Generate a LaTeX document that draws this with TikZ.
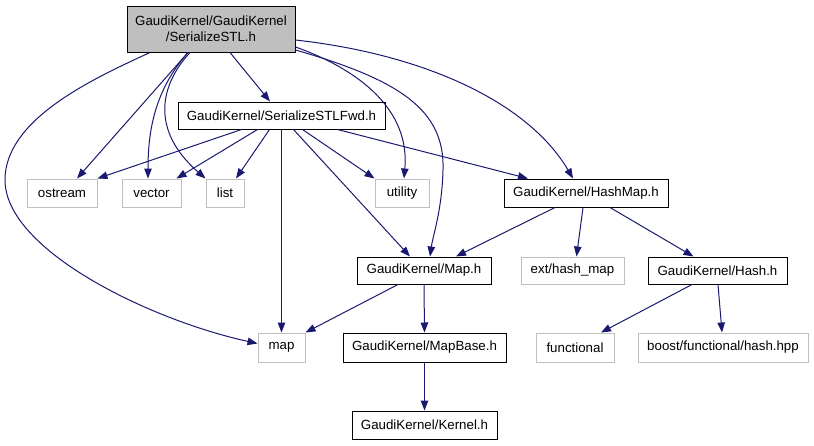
\documentclass[tikz,border=0pt]{standalone}
\usepackage{fontspec}
\setmainfont{Liberation Sans}
\usetikzlibrary{arrows.meta}
\definecolor{edgeblue}{HTML}{191970}
\definecolor{extgray}{HTML}{BFBFBF}
\begin{document}
\begin{tikzpicture}[x=1pt,y=-1pt,
  font=\fontsize{13.3}{16}\selectfont,
  box/.style={draw=black, line width=1pt, minimum height=27pt, inner sep=0pt, text=black},
  ext/.style={draw=extgray, line width=1pt, minimum height=28pt, inner sep=0pt, text=black},
  edge/.style={draw=edgeblue, line width=1pt, -{Triangle[length=10pt,width=7.5pt]}}]
\useasboundingbox (0,0) rectangle (814,445);
% nodes
\node[box, fill=extgray, minimum width=168pt, minimum height=46pt, align=center] (T) at (211,29) {GaudiKernel/GaudiKernel\\/SerializeSTL.h};
\node[box, minimum width=207pt] (F) at (281.5,115.5) {GaudiKernel/SerializeSTLFwd.h};
\node[ext, minimum width=70pt] (ostream) at (62,193) {ostream};
\node[ext, minimum width=59pt] (vector) at (151.5,193) {vector};
\node[ext, minimum width=38pt] (list) at (225,193) {list};
\node[ext, minimum width=54pt] (utility) at (402,193) {utility};
\node[box, minimum width=164pt, minimum height=28pt] (HashMap) at (586,193) {GaudiKernel/HashMap.h};
\node[box, minimum width=134pt] (Map) at (424,270.5) {GaudiKernel/Map.h};
\node[ext, minimum width=103pt, minimum height=27pt] (exthash) at (572.5,270.5) {ext/hash\_map};
\node[box, minimum width=139pt] (Hash) at (717.5,270.5) {GaudiKernel/Hash.h};
\node[ext, minimum width=47pt, minimum height=29pt] (map) at (281.5,347.5) {map};
\node[box, minimum width=163pt, minimum height=29pt] (MapBase) at (424.5,347.5) {GaudiKernel/MapBase.h};
\node[ext, minimum width=78pt, minimum height=29pt] (functional) at (575,347.5) {functional};
\node[ext, minimum width=170pt, minimum height=29pt] (boost) at (723,347.5) {boost/functional/hash.hpp};
\node[box, minimum width=145pt, minimum height=28pt] (Kernel) at (424.5,425) {GaudiKernel/Kernel.h};
% edges from SerializeSTL.h
\draw[edge] ([xshift=-61pt]T.south) .. controls (90,80) and (5,120) .. (5,180) .. controls (5,250) and (150,320) .. ([yshift=4pt]map.west);
\draw[edge] ([xshift=-23pt]T.south) -- ([xshift=15pt]ostream.north);
\draw[edge] ([xshift=-23pt]T.south) .. controls (155,90) and (148,130) .. ([xshift=-3.5pt]vector.north);
\draw[edge] ([xshift=-21pt]T.south) .. controls (160,85) and (150,130) .. (list.north west);
\draw[edge] ([xshift=19pt]T.south) -- ([xshift=-11.5pt]F.north);
\draw[edge] ([yshift=-18pt]T.east) .. controls (360,70) and (410,110) .. ([xshift=2pt]utility.north);
\draw[edge] ([yshift=-21pt]T.east) .. controls (400,80) and (445,110) .. (443,170) .. controls (442,210) and (433,235) .. ([xshift=6pt]Map.north);
\draw[edge] ([yshift=-11pt]T.east) .. controls (430,55) and (530,105) .. ([xshift=-13pt]HashMap.north);
% edges from SerializeSTLFwd.h
\draw[edge] ([xshift=-40pt]F.south) -- (ostream.north east);
\draw[edge] ([xshift=-24pt]F.south) -- ([xshift=25pt]vector.north);
\draw[edge] ([xshift=-12pt]F.south) -- ([xshift=11pt]list.north);
\draw[edge] (F.south) -- (map.north);
\draw[edge] ([xshift=12pt]F.south) -- ([xshift=-14pt]Map.north);
\draw[edge] ([xshift=21pt]F.south) -- (utility.north west);
\draw[edge] ([xshift=56pt]F.south) -- ([xshift=-58pt]HashMap.north);
% edges from HashMap.h
\draw[edge] ([xshift=-31pt]HashMap.south) -- ([xshift=32pt]Map.north);
\draw[edge] ([xshift=-3pt]HashMap.south) -- ([xshift=4pt]exthash.north);
\draw[edge] ([xshift=24pt]HashMap.south) -- ([xshift=-24pt]Hash.north);
% edges from Map.h, MapBase.h, Hash.h
\draw[edge] ([xshift=-26pt]Map.south) -- (map.north east);
\draw[edge] (Map.south) -- (MapBase.north);
\draw[edge] (MapBase.south) -- (Kernel.north);
\draw[edge] ([xshift=-25.5pt]Hash.south) -- ([xshift=26pt]functional.north);
\draw[edge] ([xshift=0.5pt]Hash.south) -- ([xshift=-1pt]boost.north);
\end{tikzpicture}
\end{document}
